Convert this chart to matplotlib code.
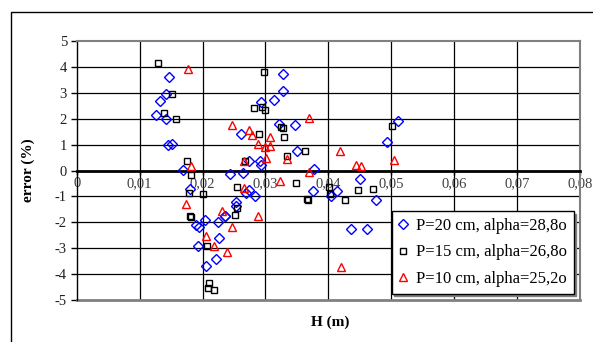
import matplotlib
matplotlib.use("Agg")
import matplotlib.pyplot as plt
from matplotlib.patches import Rectangle

plt.rcParams['font.family'] = ['Liberation Serif', 'DejaVu Serif']

# P=20 cm, alpha=28,8o (blue diamonds)
p20_h = [0.01468, 0.01426, 0.01319, 0.01266, 0.01415, 0.01452, 0.01511, 0.01691,
         0.01798, 0.02035, 0.01900, 0.01940, 0.02245, 0.02350, 0.01931, 0.02260,
         0.02220, 0.02050, 0.02440, 0.02644, 0.02734, 0.02697, 0.02840, 0.02540,
         0.02537, 0.02362, 0.03277, 0.03277, 0.03144, 0.02931, 0.03213, 0.03468,
         0.02617, 0.03495, 0.02734, 0.02910, 0.02931, 0.03771, 0.03761, 0.04144,
         0.04050, 0.04504, 0.04758, 0.04356, 0.04610, 0.04938, 0.05113]
p20_err = [3.62, 2.94, 2.69, 2.14, 1.99, 0.99, 1.03, 0.03,
           -0.72, -1.92, -2.10, -2.20, -1.97, -1.77, -2.90, -2.60,
           -3.40, -3.70, -0.13, -0.10, -0.74, -0.87, -1.00, -1.20,
           -1.38, -1.74, 3.72, 3.08, 2.74, 2.65, 1.79, 1.76,
           1.40, 0.77, 0.35, 0.35, 0.22, 0.06, -0.81, -0.81,
           -0.97, -0.32, -1.12, -2.27, -2.24, 1.10, 1.90]

# P=15 cm, alpha=26,8o (black squares)
p15_h = [0.01298, 0.01521, 0.01388, 0.01585, 0.01761, 0.01824, 0.01790, 0.02003,
         0.01795, 0.01820, 0.02064, 0.02110, 0.02090, 0.02185, 0.02973, 0.02814,
         0.02947, 0.03000, 0.03250, 0.03280, 0.02894, 0.03300, 0.03628, 0.03346,
         0.02681, 0.02545, 0.03480, 0.03654, 0.03676, 0.04010, 0.04027, 0.04270,
         0.02545, 0.02520, 0.04477, 0.04706, 0.05018]
p15_err = [4.15, 2.97, 2.21, 1.99, 0.35, -0.18, -0.86, -0.89,
           -1.76, -1.78, -2.90, -4.33, -4.52, -4.62, 3.81, 2.40,
           2.46, 2.33, 1.67, 1.63, 1.40, 1.28, 0.77, 0.56,
           0.35, -0.63, -0.48, -1.10, -1.13, -0.62, -0.91, -1.12,
           -1.44, -1.73, -0.76, -0.70, 1.71]

# P=10 cm, alpha=25,2o (red triangles)
p10_h = [0.01777, 0.01824, 0.01740, 0.02305, 0.02050, 0.02175, 0.02390, 0.02464,
         0.02468, 0.02734, 0.02787, 0.03691, 0.03069, 0.02878, 0.03000, 0.03080,
         0.03016, 0.03346, 0.04180, 0.02660, 0.03691, 0.03239, 0.02665, 0.02883,
         0.04205, 0.04440, 0.04515, 0.05050]
p10_err = [3.91, 0.18, -1.30, -1.58, -2.52, -2.92, -3.13, -2.18,
           1.76, 1.56, 1.37, 2.01, 1.28, 1.03, 0.90, 0.95,
           0.47, 0.44, 0.75, 0.35, -0.04, -0.40, -0.68, -1.74,
           -3.72, 0.23, 0.19, 0.42]

x_ticks = [0, 0.01, 0.02, 0.03, 0.04, 0.05, 0.06, 0.07, 0.08]
x_tick_labels = ["0", "0,01", "0,02", "0,03", "0,04", "0,05", "0,06", "0,07", "0,08"]
y_ticks = [-5, -4, -3, -2, -1, 0, 1, 2, 3, 4, 5]

W, H = 593, 342
fig = plt.figure(figsize=(W / 100, H / 100), dpi=100)
fig.patch.set_facecolor('white')
fig.add_artist(Rectangle((11 / W, -0.1), 1.2, 1.1 - 12 / H, transform=fig.transFigure,
                         fill=False, edgecolor='black', lw=1.0))

ax = fig.add_axes([76.7 / W, 1 - 300 / H, (580 - 76.7) / W, (300 - 41) / H])
ax.set_xlim(0, 0.08)
ax.set_ylim(-5, 5)

# grid
for yv in y_ticks:
    if yv not in (0, -5, 5):
        ax.axhline(yv, color='black', lw=0.9, zorder=1)
for xv in x_ticks[1:-1]:
    ax.axvline(xv, color='black', lw=0.9, zorder=1)

ax.plot(p20_h, p20_err, linestyle='none', marker='D', markersize=4.6, markerfacecolor='none',
        markeredgecolor='#0000FF', markeredgewidth=1.0, label='P=20 cm, alpha=28,8o', zorder=3)
ax.plot(p15_h, p15_err, linestyle='none', marker='s', markersize=4.6, markerfacecolor='none',
        markeredgecolor='black', markeredgewidth=1.0, label='P=15 cm, alpha=26,8o', zorder=3)
ax.plot(p10_h, p10_err, linestyle='none', marker='^', markersize=6.3, markerfacecolor='none',
        markeredgecolor='#FF0000', markeredgewidth=1.0, label='P=10 cm, alpha=25,2o', zorder=3)

# spines
ax.spines['left'].set_color('black')
ax.spines['left'].set_linewidth(1.0)
ax.spines['top'].set_color('#808080')
ax.spines['right'].set_color('#808080')
ax.spines['top'].set_linewidth(1.5)
ax.spines['right'].set_linewidth(1.5)
ax.spines['bottom'].set_position(('data', 0))
ax.spines['bottom'].set_linewidth(2.0)
ax.spines['bottom'].set_color('black')
ax.axhline(-5, color='#808080', lw=2.0, zorder=2, clip_on=False)

ax.set_xticks(x_ticks)
ax.set_xticklabels(x_tick_labels)
ax.set_yticks(y_ticks)
ax.set_yticklabels([str(v) for v in y_ticks])
ax.tick_params(axis='x', direction='out', length=3, width=1, pad=2, labelsize=10.5,
               labelcolor='#404040', color='black')
ax.tick_params(axis='y', direction='out', length=4, width=1, pad=3, labelsize=10.5,
               labelcolor='#202020')

ax.set_ylabel('error (%)', fontsize=11, fontweight='bold', labelpad=14)
fig.text(330 / W, 1 - 322 / H, 'H (m)', ha='center', va='center', fontsize=11, fontweight='bold')

leg = ax.legend(loc='lower right', bbox_to_anchor=(573.5 / W, 1 - 293.5 / H),
                bbox_transform=fig.transFigure, frameon=True, fancybox=False,
                edgecolor='black', framealpha=1, fontsize=12, handlelength=0.6,
                handletextpad=0.45, borderpad=0.4, labelspacing=0.62, borderaxespad=0,
                shadow={'color': '#808080', 'alpha': 1})
leg.get_frame().set_linewidth(1.0)
leg.set_zorder(5)

fig.savefig('out.png', dpi=100)
